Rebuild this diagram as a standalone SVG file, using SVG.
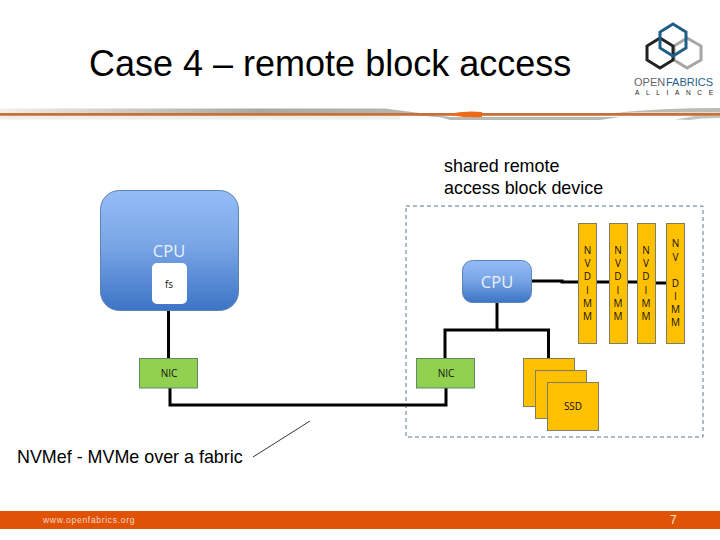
<svg xmlns="http://www.w3.org/2000/svg" width="720" height="540" viewBox="0 0 720 540">
<style>
.ui{font-family:"Open Sans","Noto Sans",sans-serif}
.ar{font-family:"Liberation Sans",Arial,sans-serif}
.cpu{fill:url(#cpuGrad);stroke:#5b83b5;stroke-width:1}
.nic{fill:#92d050;stroke:#5f8a6a;stroke-width:1}
.amber{fill:#ffc000;stroke:#7f7f5f;stroke-width:1}
.wire{fill:none;stroke:#000;stroke-width:3}
.lbl{font-size:10px;fill:#111;text-anchor:middle}
.cput{font-size:16.500px;fill:#e8f1fc;text-anchor:middle}
</style>
<defs>
<linearGradient id="cpuGrad" x1="0" y1="0" x2="0" y2="1">
<stop offset="0" stop-color="#94bdf7"/><stop offset="0.45" stop-color="#7aa6e6"/><stop offset="1" stop-color="#3c74c6"/>
</linearGradient>
<linearGradient id="sw" x1="0" y1="0" x2="1" y2="0">
<stop offset="0" stop-color="#f4efe8"/><stop offset="0.2" stop-color="#d8d4ce"/><stop offset="0.55" stop-color="#a8a8a4"/><stop offset="1" stop-color="#bdbdb8"/>
</linearGradient>
</defs>
<rect width="720" height="540" fill="#fff"/>

<g id="header">
<text class="ar" x="89" y="76" font-size="36" fill="#000">Case 4 – remote block access</text>
<rect x="0" y="116" width="400" height="3.500" fill="#eeeeea"/>
<path d="M0 108.500H385L470 119.500 385 113H0Z" fill="url(#sw)"/>
<path d="M440 117H620L600 120H450Z" fill="#b8b8b2"/>
<path d="M615 113Q660 108 720 108V112.500H640Z" fill="#bcbcb6"/>
<path d="M675 119.500 695 116H720V118Q700 118 690 120Z" fill="#c4c4be"/>
<rect x="0" y="113" width="720" height="2.800" fill="#c8703a"/>
<path d="M446 114.500Q465 110 482 112V117Q465 118 446 114.500Z" fill="#ee6a1a"/>
</g>

<g id="logo" fill="none" stroke-width="3">
<polygon points="687,38 701,46 701,60 687,68 674,60 674,46" stroke="#a6a6a6"/>
<polygon points="660,38 673,46 673,60 660,68 647,60 647,46" stroke="#222"/>
<polygon points="673,24 686,32 686,48 673,56 660,48 660,32" stroke="#1f5f87"/>
<text class="ar" x="634" y="86" font-size="11" fill="#666" stroke="none">OPEN</text>
<text class="ar" x="666" y="86" font-size="11" fill="#1f5f87" stroke="none">FABRICS</text>
<text class="ar" x="635" y="95" font-size="6.500" fill="#222" stroke="none" textLength="78">ALLIANCE</text>
</g>

<g id="shared-label"><text class="ar" font-size="17.900" fill="#000"><tspan x="444" y="172">shared remote</tspan><tspan x="444" y="194">access block device</tspan></text></g>

<rect id="boundary" x="406" y="206" width="297" height="231" fill="none" stroke="#5f7684" stroke-dasharray="4 3"/>

<g id="connectors">
<path class="wire" d="M168.500 310V358"/>
<path class="wire" d="M170 388V405H446V388"/>
<path class="wire" d="M497 302V330"/>
<path class="wire" d="M445 358V330H548.500V358"/>
<path class="wire" d="M532 281H562V282H578"/>
<path class="wire" d="M596 282H609"/>
<path class="wire" d="M627 282H637"/>
<path class="wire" d="M655 283H666"/>
<line x1="253" y1="457" x2="310" y2="421" stroke="#000" stroke-width="0.800"/>
</g>

<g id="cpu-left">
<rect class="cpu" x="100.500" y="190.500" width="138" height="120" rx="19"/>
<text class="ui cput" x="169" y="257">CPU</text>
</g>
<g id="fs">
<rect x="152" y="263" width="35" height="41" rx="5" fill="#fff"/>
<text class="ui lbl" x="169" y="288">fs</text>
</g>
<g id="nic-left">
<rect class="nic" x="139.500" y="358.500" width="58" height="29.500"/>
<text class="ui lbl" x="169" y="377">NIC</text>
</g>
<g id="cpu-right">
<rect class="cpu" x="462.500" y="260.500" width="69" height="42" rx="10"/>
<text class="ui cput" x="497" y="288">CPU</text>
</g>
<g id="nic-right">
<rect class="nic" x="416.500" y="358.500" width="58" height="29.500"/>
<text class="ui lbl" x="446" y="377">NIC</text>
</g>
<g id="ssd">
<rect class="amber" x="523.500" y="358.500" width="51" height="48"/>
<rect class="amber" x="535.500" y="370.500" width="51" height="48"/>
<rect class="amber" x="547.500" y="382.500" width="51" height="48"/>
<text class="ui lbl" x="573" y="410">SSD</text>
</g>
<g id="nvdimm-1">
<rect class="amber" x="578.500" y="223.500" width="18" height="120"/>
<text class="ui lbl"><tspan x="587.500" y="254">N</tspan><tspan x="587.500" y="267">V</tspan><tspan x="587.500" y="280">D</tspan><tspan x="587.500" y="294">I</tspan><tspan x="587.500" y="307">M</tspan><tspan x="587.500" y="320">M</tspan></text>
</g>
<g id="nvdimm-2">
<rect class="amber" x="609.500" y="223.500" width="18" height="120"/>
<text class="ui lbl"><tspan x="618" y="254">N</tspan><tspan x="618" y="267">V</tspan><tspan x="618" y="280">D</tspan><tspan x="618" y="294">I</tspan><tspan x="618" y="307">M</tspan><tspan x="618" y="320">M</tspan></text>
</g>
<g id="nvdimm-3">
<rect class="amber" x="637.500" y="223.500" width="18" height="120"/>
<text class="ui lbl"><tspan x="646" y="254">N</tspan><tspan x="646" y="267">V</tspan><tspan x="646" y="280">D</tspan><tspan x="646" y="294">I</tspan><tspan x="646" y="307">M</tspan><tspan x="646" y="320">M</tspan></text>
</g>
<g id="nvdimm-4">
<rect class="amber" x="666.500" y="223.500" width="18" height="120"/>
<text class="ui lbl"><tspan x="675.500" y="247">N</tspan><tspan x="675.500" y="261">V</tspan><tspan x="675.500" y="287">D</tspan><tspan x="675.500" y="300">I</tspan><tspan x="675.500" y="313">M</tspan><tspan x="675.500" y="326">M</tspan></text>
</g>

<text id="fabric-label" class="ar" x="17" y="463" font-size="17.900" fill="#000">NVMef - MVMe over a fabric</text>

<g id="footer">
<rect x="0" y="511" width="720" height="18" fill="#e05206"/>
<text class="ar" x="43" y="523" font-size="8.500" letter-spacing="0.700" fill="#f5d9c8">www.openfabrics.org</text>
<text class="ar" x="670" y="523.500" font-size="12" fill="#fbe6c8">7</text>
</g>
</svg>
